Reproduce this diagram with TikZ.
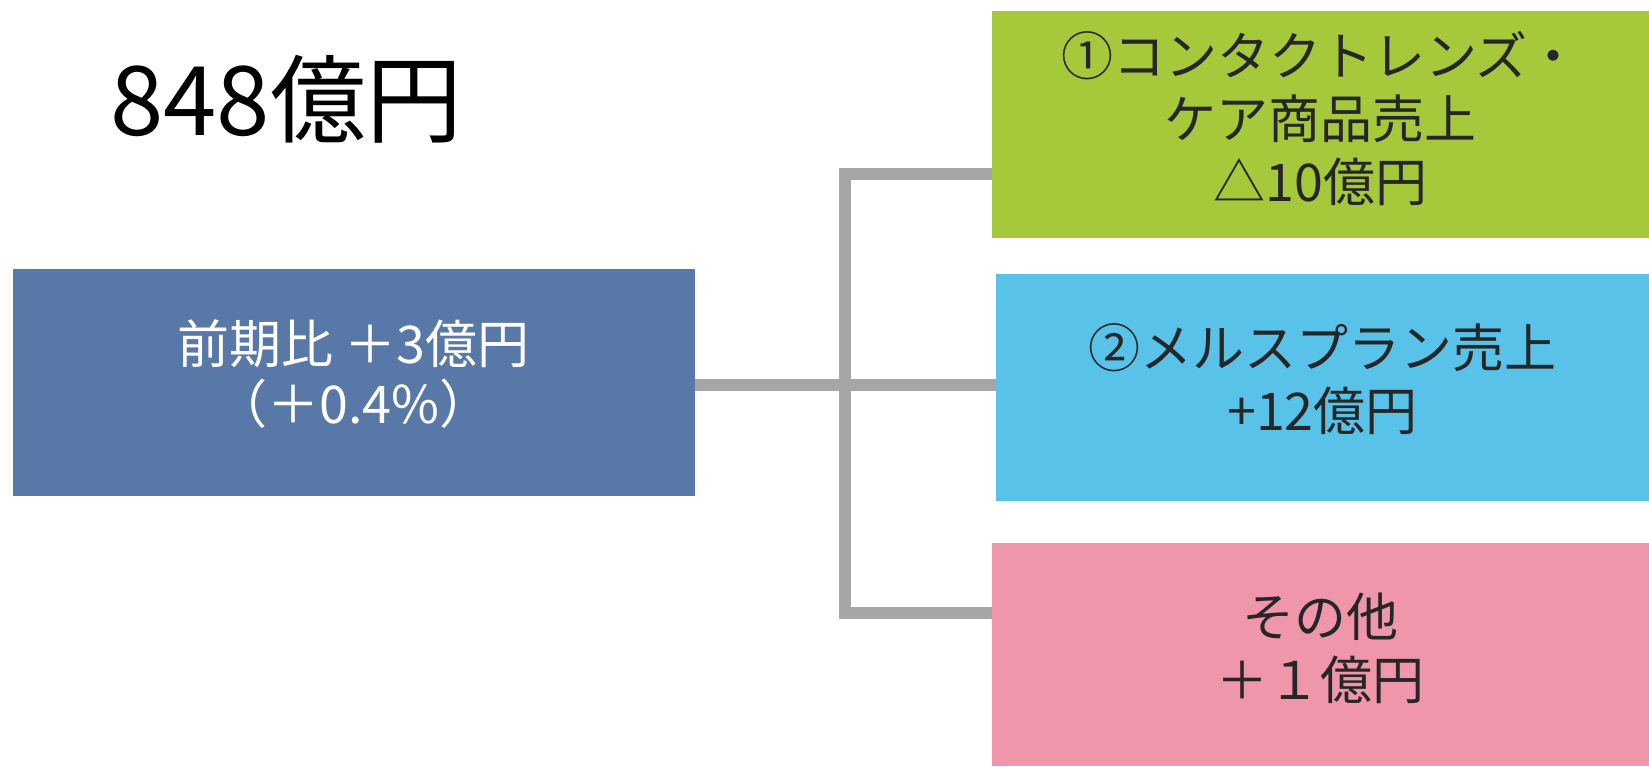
\documentclass[tikz,border=0pt]{standalone}
\usepackage{fontspec}
\setmainfont{Noto Sans CJK JP}
\definecolor{leftblue}{HTML}{5878A8}
\definecolor{boxgreen}{HTML}{A5C93A}
\definecolor{boxcyan}{HTML}{59C2E9}
\definecolor{boxpink}{HTML}{EF96AB}
\definecolor{linegray}{HTML}{A6A6A6}
\definecolor{txtdark}{HTML}{262626}
\begin{document}
\begin{tikzpicture}[x=1pt,y=-1pt,
  box/.style={rectangle, inner sep=0pt, outer sep=0pt},
  boxtext/.style={inner sep=0pt, align=center, text=txtdark,
    font=\fontsize{52}{63}\selectfont},
  conn/.style={draw=linegray, line width=12pt, line join=miter}]
\useasboundingbox (0,0) rectangle (1649,766);
\fill[white] (0,0) rectangle (1649,766);
% title
\node[anchor=west, inner sep=0pt, font=\fontsize{96}{96}\selectfont, text=black] (T) at (110,99) {848億円};
% boxes
\node[box, fill=leftblue, minimum width=682pt, minimum height=227pt] (L) at (353.5,382.5) {};
\node[box, fill=boxgreen, minimum width=657pt, minimum height=227pt] (G) at (1320.5,124.5) {};
\node[box, fill=boxcyan, minimum width=653pt, minimum height=227pt] (B) at (1322.5,387.5) {};
\node[box, fill=boxpink, minimum width=657pt, minimum height=223pt] (P) at (1320.5,654.5) {};
% texts
\node[boxtext, text=white, font=\fontsize{52}{60}\selectfont] (Lt) at ([yshift=8pt]L.center)
  {前期比 ＋3億円\\（＋0.4\%）};
\node[boxtext] (Gt) at ([yshift=6pt]G.center) {①コンタクトレンズ・\\ケア商品売上\\△10億円};
\node[boxtext] (Bt) at ([yshift=8pt]B.center) {②メルスプラン売上\\+12億円};
\node[boxtext] (Pt) at ([yshift=6pt]P.center) {その他\\＋１億円};
% connectors
\coordinate (jt) at (845,174);
\coordinate (jm) at (845,385);
\coordinate (jb) at (845,613);
\draw[conn] (jt -| G.west) -- (jt) -- (jb) -- (jb -| P.west);
\draw[conn] (jm -| L.east) -- (jm -| B.west);
\end{tikzpicture}
\end{document}
